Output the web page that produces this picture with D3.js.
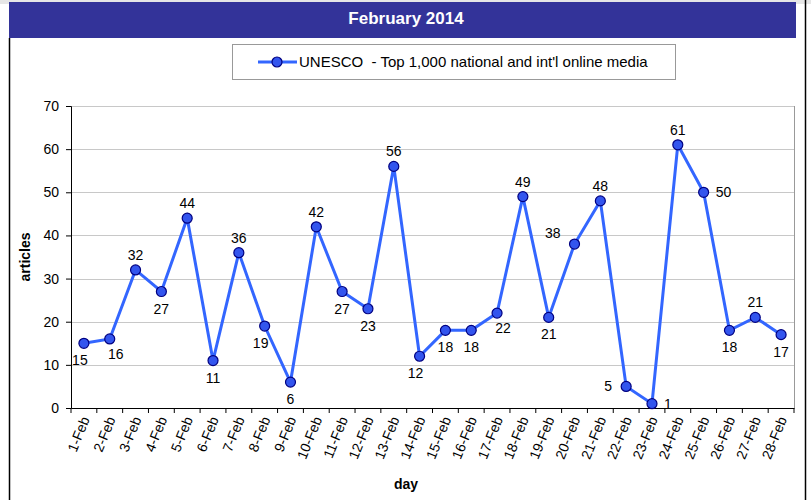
<!DOCTYPE html>
<html lang="en">
<head>
<meta charset="UTF-8">
<title>February 2014</title>
<style>
  body { margin: 0; background: #fff; }
  text { font-family: "Liberation Sans", Arial, sans-serif; }
</style>
</head>
<body>
<script src="https://d3js.org/d3.v7.min.js"></script>
<script type="text/javascript">
var width = 811;
var height = 500;

var days = ["1-Feb","2-Feb","3-Feb","4-Feb","5-Feb","6-Feb","7-Feb","8-Feb","9-Feb","10-Feb",
  "11-Feb","12-Feb","13-Feb","14-Feb","15-Feb","16-Feb","17-Feb","18-Feb","19-Feb","20-Feb",
  "21-Feb","22-Feb","23-Feb","24-Feb","25-Feb","26-Feb","27-Feb","28-Feb"];
var articles = [15,16,32,27,44,11,36,19,6,42,27,23,56,12,18,18,22,49,21,38,48,5,1,61,50,18,21,17];
var yTicks = [0,10,20,30,40,50,60,70];
var seriesName = "UNESCO  - Top 1,000 national and int'l online media";
// where each value label sits relative to its point
var labelPos = ["bl","br","a","b","a","b","a","bl","b","a","b","b","a","bl","b","b","br","a","b","al",
  "a","l","r","a","r","b","a","b"];

var padding = {left:71, right:17, top:106, bottom:92};

var svg = d3.select("body").append("svg").attr("width",width).attr("height",height);

// top strip + header bar
svg.append("rect").attr("x",0).attr("y",0).attr("width",width).attr("height",4).attr("fill","#e6e6e6");
svg.append("rect").attr("x",9).attr("y",2).attr("width",787).attr("height",36).attr("fill","#333399");
svg.append("text").attr("x",406).attr("y",24).attr("text-anchor","middle")
  .attr("fill","#fff").attr("font-size",17).attr("font-weight","bold").text("February 2014");

// outer frame lines
svg.append("line").attr("x1",9.5).attr("x2",9.5).attr("y1",38).attr("y2",height).attr("stroke","#000").attr("stroke-width",1.5);
svg.append("line").attr("x1",805.5).attr("x2",805.5).attr("y1",0).attr("y2",height).attr("stroke","#000").attr("stroke-width",1.5);

var XScale = d3.scaleBand().domain(days).range([padding.left, width-padding.right]);
var YScale = d3.scaleLinear().domain([0,70]).range([height-padding.bottom, padding.top]);

// gridlines
svg.append("g").selectAll("line").data(yTicks.slice(1)).enter().append("line")
  .attr("x1",padding.left).attr("x2",width-padding.right)
  .attr("y1",function(d){ return Math.round(YScale(d))+0.5; })
  .attr("y2",function(d){ return Math.round(YScale(d))+0.5; })
  .attr("stroke","#c8c8c8").attr("stroke-width",1);
// right border
svg.append("line").attr("x1",width-padding.right+0.5).attr("x2",width-padding.right+0.5)
  .attr("y1",padding.top).attr("y2",height-padding.bottom).attr("stroke","#999");

// y axis
var YAxis = d3.axisLeft(YScale).tickValues(yTicks).tickSize(5).tickPadding(7);
var gy = svg.append("g").attr("transform","translate(" + padding.left + ",0)").call(YAxis);
gy.select(".domain").attr("stroke","#000");
gy.selectAll("text").attr("font-size",14).attr("font-family","Liberation Sans, Arial").attr("fill","#000");

// x axis
var XAxis = d3.axisBottom(XScale).tickSize(0).tickPadding(0);
var gx = svg.append("g").attr("transform","translate(0," + (height-padding.bottom) + ")").call(XAxis);
gx.select(".domain").attr("stroke","#000");
gx.selectAll(".tick text")
  .attr("font-size",14).attr("font-family","Liberation Sans, Arial").attr("fill","#000")
  .attr("text-anchor","end").attr("dy",0)
  .attr("transform","translate(6,11) rotate(-68)");
// tick marks at category boundaries
gx.append("g").selectAll("line").data(d3.range(days.length+1)).enter().append("line")
  .attr("x1",function(i){ return padding.left + i*XScale.step(); })
  .attr("x2",function(i){ return padding.left + i*XScale.step(); })
  .attr("y1",0).attr("y2",5).attr("stroke","#000");

// axis titles
svg.append("text").attr("transform","translate(30," + ((padding.top + height - padding.bottom)/2) + ") rotate(-90)")
  .attr("text-anchor","middle").attr("font-size",14).attr("font-weight","bold").text("articles");
svg.append("text").attr("x",406).attr("y",489).attr("text-anchor","middle")
  .attr("font-size",14).attr("font-weight","bold").text("day");

// line
var line = d3.line()
  .x(function(d,i){ return XScale(days[i]) + XScale.bandwidth()/2; })
  .y(function(d){ return YScale(d); });
svg.append("path").datum(articles).attr("d",line)
  .attr("fill","none").attr("stroke","#3366ff").attr("stroke-width",3).attr("stroke-linejoin","miter");

svg.append("g").selectAll("circle").data(articles).enter().append("circle")
  .attr("cx",function(d,i){ return XScale(days[i]) + XScale.bandwidth()/2; })
  .attr("cy",function(d){ return YScale(d); })
  .attr("r",5)
  .attr("fill","#3355ee").attr("stroke","#000080").attr("stroke-width",1.2);

// value labels
var offs = {a:[0,-10], b:[0,22], bl:[-4,22], br:[6,20], l:[-14,5], r:[12,5], al:[-14,-6]};
svg.append("g").selectAll("text").data(articles).enter().append("text")
  .attr("x",function(d,i){ return XScale(days[i]) + XScale.bandwidth()/2 + offs[labelPos[i]][0]; })
  .attr("y",function(d,i){ return YScale(d) + offs[labelPos[i]][1]; })
  .attr("text-anchor",function(d,i){ var p = labelPos[i]; return p=="l"||p=="al" ? "end" : (p=="r" ? "start" : "middle"); })
  .attr("font-size",14).attr("fill","#000")
  .text(function(d){ return d; });

// legend
var lg = svg.append("g");
lg.append("rect").attr("x",232.5).attr("y",44.5).attr("width",443).attr("height",35)
  .attr("fill","#fff").attr("stroke","#999");
lg.append("line").attr("x1",258).attr("x2",297).attr("y1",62).attr("y2",62)
  .attr("stroke","#3366ff").attr("stroke-width",3);
lg.append("circle").attr("cx",277).attr("cy",62).attr("r",5)
  .attr("fill","#3355ee").attr("stroke","#000080").attr("stroke-width",1.2);
lg.append("text").attr("x",299).attr("y",67).attr("font-size",15)
  .style("white-space","pre")
  .attr("font-family","Lato, 'Open Sans', sans-serif").attr("fill","#000").text(seriesName);
</script>
</body>
</html>
